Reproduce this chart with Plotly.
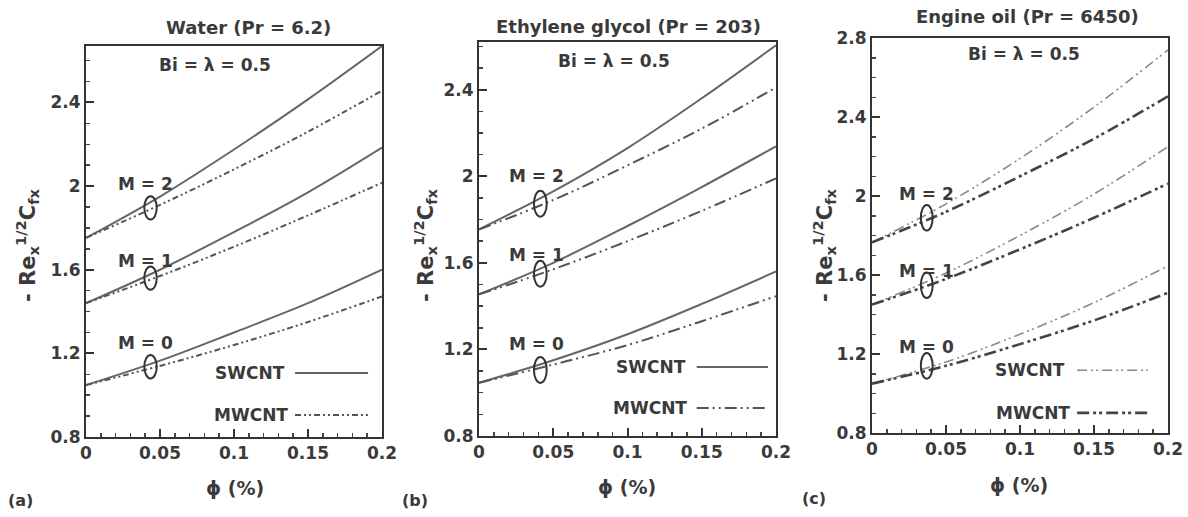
import plotly.graph_objects as go
import numpy as np

# ---------------- data ----------------
phi = [0, 0.05, 0.1, 0.15, 0.2]

water_sw_M0 = [1.048, 1.165, 1.30, 1.44, 1.60]
water_mw_M0 = [1.048, 1.14, 1.24, 1.35, 1.472]
water_sw_M1 = [1.44, 1.60, 1.78, 1.97, 2.184]
water_mw_M1 = [1.44, 1.57, 1.71, 1.86, 2.016]
water_sw_M2 = [1.752, 1.95, 2.175, 2.415, 2.67]
water_mw_M2 = [1.752, 1.91, 2.08, 2.26, 2.456]

eg_sw_M0 = [1.046, 1.15, 1.27, 1.41, 1.56]
eg_mw_M0 = [1.046, 1.13, 1.22, 1.33, 1.446]
eg_sw_M1 = [1.454, 1.60, 1.77, 1.95, 2.138]
eg_mw_M1 = [1.454, 1.57, 1.70, 1.84, 1.99]
eg_sw_M2 = [1.754, 1.93, 2.13, 2.36, 2.605]
eg_mw_M2 = [1.754, 1.89, 2.05, 2.22, 2.41]

oil_sw_M0 = [1.05, 1.16, 1.30, 1.46, 1.646]
oil_mw_M0 = [1.05, 1.14, 1.25, 1.37, 1.51]
oil_sw_M1 = [1.45, 1.61, 1.80, 2.01, 2.25]
oil_mw_M1 = [1.45, 1.58, 1.73, 1.89, 2.063]
oil_sw_M2 = [1.765, 1.96, 2.19, 2.45, 2.74]
oil_mw_M2 = [1.765, 1.92, 2.10, 2.29, 2.505]

x_tickvals = [0, 0.05, 0.1, 0.15, 0.2]
x_ticktext = ["0", "0.05", "0.1", "0.15", "0.2"]
y_tickvals_ab = [0.8, 1.2, 1.6, 2.0, 2.4]
y_ticktext_ab = ["0.8", "1.2", "1.6", "2", "2.4"]
y_tickvals_c = [0.8, 1.2, 1.6, 2.0, 2.4, 2.8]
y_ticktext_c = ["0.8", "1.2", "1.6", "2", "2.4", "2.8"]

titles = ["Water (Pr = 6.2)", "Ethylene glycol (Pr = 203)", "Engine oil (Pr = 6450)"]
panel_tags = ["(a)", "(b)", "(c)"]
m_labels = ["M = 0", "M = 1", "M = 2"]

# ellipse centres (phi, value) for M = 0, 1, 2
ell_a = [(0.0436, 1.136), (0.0436, 1.56), (0.0436, 1.896)]
ell_b = [(0.0413, 1.105), (0.0413, 1.55), (0.0413, 1.873)]
ell_c = [(0.037, 1.14), (0.037, 1.548), (0.037, 1.89)]
# label positions (phi, value) for M = 0, 1, 2
lab_a = [(0.040, 1.248), (0.040, 1.64), (0.040, 2.008)]
lab_b = [(0.039, 1.223), (0.039, 1.638), (0.039, 2.0)]
lab_c = [(0.0365, 1.237), (0.0365, 1.62), (0.0365, 2.01)]

# ---------------- styling ----------------
TXT = "#3a3a3a"
FONT = "DejaVu Sans, Verdana, sans-serif"
W, H = 1188, 517
FS = 17

panels = [
    dict(sw=[water_sw_M0, water_sw_M1, water_sw_M2], mw=[water_mw_M0, water_mw_M1, water_mw_M2],
         px=(86, 382), py=(46, 437), yr=(0.8, 2.67), yt=(y_tickvals_ab, y_ticktext_ab),
         sw_style=dict(color="#666666", width=2, dash="solid"),
         mw_style=dict(color="#555555", width=2, dash="6px,3px,2px,3px,2px,3px"),
         ell=ell_a, lab=lab_a, ehw=0.0042, ehh=0.056,
         title_xy=(248, 28), bi_xy=(0.436, 0.951),
         leg=dict(sw_tx=0.679, sw_y=0.164, mw_tx=0.689, mw_y=0.056, l0=0.706, l1=0.953),
         ylab_x=27, xlab_xy=(235, 488), tag_xy=(20, 500)),
    dict(sw=[eg_sw_M0, eg_sw_M1, eg_sw_M2], mw=[eg_mw_M0, eg_mw_M1, eg_mw_M2],
         px=(479, 776), py=(42, 436), yr=(0.8, 2.62), yt=(y_tickvals_ab, y_ticktext_ab),
         sw_style=dict(color="#666666", width=2, dash="solid"),
         mw_style=dict(color="#555555", width=2, dash="12px,4px,2px,4px,2px,4px"),
         ell=ell_b, lab=lab_b, ehw=0.0043, ehh=0.06,
         title_xy=(628, 26), bi_xy=(0.455, 0.952),
         leg=dict(sw_tx=0.704, sw_y=0.175, mw_tx=0.707, mw_y=0.071, l0=0.733, l1=0.973),
         ylab_x=425, xlab_xy=(627, 487), tag_xy=(415, 500)),
    dict(sw=[oil_sw_M0, oil_sw_M1, oil_sw_M2], mw=[oil_mw_M0, oil_mw_M1, oil_mw_M2],
         px=(872, 1168), py=(38, 433), yr=(0.8, 2.8), yt=(y_tickvals_c, y_ticktext_c),
         sw_style=dict(color="#8a8a8a", width=1.6, dash="10px,4px,2px,3px,2px,4px"),
         mw_style=dict(color="#444444", width=2.6, dash="12px,4px,3px,3px,3px,4px"),
         ell=ell_c, lab=lab_c, ehw=0.0040, ehh=0.065,
         title_xy=(1027, 17), bi_xy=(0.514, 0.96),
         leg=dict(sw_tx=0.659, sw_y=0.159, mw_tx=0.676, mw_y=0.051, l0=0.693, l1=0.932),
         ylab_x=824, xlab_xy=(1019, 485), tag_xy=(814, 498)),
]

fig = go.Figure()
annotations = []
shapes = []
layout_axes = {}

x_minor = [round(v, 3) for v in np.arange(0, 0.2001, 0.01)]


def ann(**kw):
    base = dict(showarrow=False, xanchor="center", yanchor="middle", font=dict(size=FS))
    base.update(kw)
    annotations.append(base)


for i, p in enumerate(panels):
    suf = "" if i == 0 else str(i + 1)
    xref, yref = "x" + suf, "y" + suf
    xdom = [p["px"][0] / W, p["px"][1] / W]
    ydom = [1 - p["py"][1] / H, 1 - p["py"][0] / H]
    y_minor = [round(v, 2) for v in np.arange(0.8, p["yr"][1] + 1e-9, 0.1)]

    for k in range(3):
        fig.add_trace(go.Scatter(x=phi, y=p["sw"][k], mode="lines", line=dict(shape="spline", **p["sw_style"]),
                                 xaxis=xref, yaxis=yref, showlegend=False, hoverinfo="skip"))
        fig.add_trace(go.Scatter(x=phi, y=p["mw"][k], mode="lines", line=dict(shape="spline", **p["mw_style"]),
                                 xaxis=xref, yaxis=yref, showlegend=False, hoverinfo="skip"))

    axcommon = dict(showline=True, linewidth=2, linecolor="#333333", mirror=True, showgrid=False,
                    zeroline=False, ticks="inside", ticklen=8, tickwidth=2, tickcolor="#333333",
                    automargin=False,
                    tickfont=dict(family=FONT, size=FS, color=TXT, weight="bold"))
    layout_axes["xaxis" + suf] = dict(domain=xdom, range=[0, 0.2], tickmode="array",
                                      tickvals=x_tickvals, ticktext=x_ticktext, anchor=yref,
                                      minor=dict(tickvals=x_minor, ticks="inside", ticklen=4,
                                                 tickwidth=1.5, tickcolor="#444444"),
                                      **axcommon)
    layout_axes["yaxis" + suf] = dict(domain=ydom, range=list(p["yr"]), tickmode="array",
                                      tickvals=p["yt"][0], ticktext=p["yt"][1], anchor=xref,
                                      minor=dict(tickvals=y_minor, ticks="inside", ticklen=4,
                                                 tickwidth=1.5, tickcolor="#444444"),
                                      **axcommon)

    # ellipses and M labels
    for k in range(3):
        cx, cy = p["ell"][k]
        shapes.append(dict(type="circle", xref=xref, yref=yref,
                           x0=cx - p["ehw"], x1=cx + p["ehw"], y0=cy - p["ehh"], y1=cy + p["ehh"],
                           line=dict(color="#333333", width=2)))
        lx, ly = p["lab"][k]
        ann(x=lx, y=ly, xref=xref, yref=yref, text=m_labels[k])

    # Bi label
    ann(x=p["bi_xy"][0], y=p["bi_xy"][1], xref=xref + " domain", yref=yref + " domain", text="Bi = λ = 0.5")
    # legend
    L = p["leg"]
    ann(x=L["sw_tx"], y=L["sw_y"], xref=xref + " domain", yref=yref + " domain", text="SWCNT", xanchor="right")
    ann(x=L["mw_tx"], y=L["mw_y"], xref=xref + " domain", yref=yref + " domain", text="MWCNT", xanchor="right")
    shapes.append(dict(type="line", xref=xref + " domain", yref=yref + " domain",
                       x0=L["l0"], x1=L["l1"], y0=L["sw_y"], y1=L["sw_y"], line=p["sw_style"]))
    shapes.append(dict(type="line", xref=xref + " domain", yref=yref + " domain",
                       x0=L["l0"], x1=L["l1"], y0=L["mw_y"], y1=L["mw_y"], line=p["mw_style"]))

    # title
    ann(x=p["title_xy"][0] / W, y=1 - p["title_xy"][1] / H, xref="paper", yref="paper",
        text=titles[i], font=dict(size=18))
    # y-axis label
    ann(x=p["ylab_x"] / W, y=1 - 245 / H, xref="paper", yref="paper",
        text="- Re<sub>x</sub><sup>1/2</sup>C<sub>fx</sub>", textangle=-90, font=dict(size=21))
    # x-axis label
    ann(x=p["xlab_xy"][0] / W, y=1 - p["xlab_xy"][1] / H, xref="paper", yref="paper",
        text="ϕ (%)", font=dict(size=19))
    # panel tag
    ann(x=p["tag_xy"][0] / W, y=1 - p["tag_xy"][1] / H, xref="paper", yref="paper",
        text=panel_tags[i], font=dict(size=16))

fig.update_layout(
    width=W, height=H, margin=dict(l=0, r=0, t=0, b=0, autoexpand=False),
    paper_bgcolor="white", plot_bgcolor="white",
    font=dict(family=FONT, size=FS, color=TXT, weight="bold"),
    annotations=annotations, shapes=shapes, showlegend=False,
    hovermode=False,
    **layout_axes,
)

fig.write_html("out.html", config={"displayModeBar": False, "staticPlot": True},
               post_script="document.body.style.margin='0';document.body.style.overflow='hidden';")
